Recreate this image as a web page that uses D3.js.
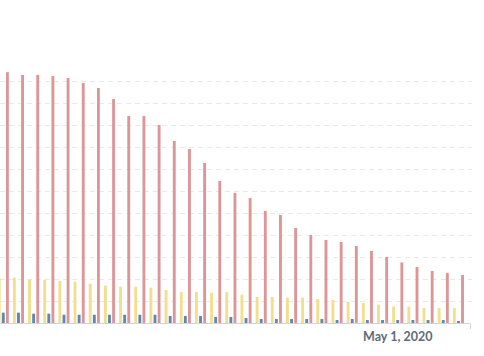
<!DOCTYPE html>
<html>
<head>
<meta charset="utf-8">
<script src="https://cdn.jsdelivr.net/npm/d3@7"></script>
<style>
  body { margin: 0; background: #fff; }
  svg { display: block; }
</style>
</head>
<body>
<div id="chart"></div>
<script>
// daily values, Apr 5 2020 .. May 5 2020
var days = d3.timeDay.range(new Date(2020, 3, 5), new Date(2020, 4, 6));

var hospitalized = [22800, 22550, 22550, 22450, 22270, 21820, 21360, 20360, 18820, 18820,
  18000, 16550, 15820, 14550, 12910, 11820, 11360, 10180, 9820, 8640,
  8000, 7550, 7360, 7000, 6550, 6000, 5500, 5090, 4730, 4550, 4360];
var icu = [4090, 4120, 3940, 3940, 3820, 3750, 3570, 3390, 3300, 3300,
  3210, 3000, 2820, 2820, 2750, 2820, 2570, 2360, 2360, 2300,
  2300, 2180, 2090, 1910, 1820, 1660, 1480, 1480, 1360, 1360, 1360];
var deaths = [940, 940, 850, 850, 750, 750, 750, 750, 750, 750,
  750, 640, 640, 640, 550, 550, 450, 360, 360, 360,
  360, 360, 270, 360, 270, 270, 270, 270, 270, 270, 180];

var seriesKeys = ['icu', 'deaths', 'hospitalized'];
var colors = { icu: '#f2de8e', deaths: '#5f87b4', hospitalized: '#de9597' };
var yTicks = d3.range(2000, 22001, 2000);
var labelDate = new Date(2020, 4, 1);

var rows = days.map(function(d, i) {
  return { date: d, icu: icu[i], deaths: deaths[i], hospitalized: hospitalized[i] };
});

var width = 484, height = 356;
var plotLeft = -4.3, plotRight = 466, axisEnd = 470, baseY = 323, topY = 81;

var svg = d3.select('#chart')
  .append('svg')
  .attr('width', width)
  .attr('height', height);

var x0 = d3.scaleBand()
  .domain(days)
  .range([plotLeft, plotRight])
  .paddingInner(0.27)
  .paddingOuter(0.135);

var x1 = d3.scaleBand()
  .domain(seriesKeys)
  .range([0, x0.bandwidth()])
  .paddingInner(0.3);

var y = d3.scaleLinear()
  .domain([0, 22000])
  .range([baseY, topY]);

// dashed gridlines
svg.append('g')
  .selectAll('line')
  .data(yTicks)
  .enter()
  .append('line')
  .attr('x1', 0)
  .attr('x2', 472)
  .attr('y1', function(d) { return Math.round(y(d)) + 0.5; })
  .attr('y2', function(d) { return Math.round(y(d)) + 0.5; })
  .attr('stroke', '#e8e8e8')
  .attr('stroke-dasharray', '5,4');

var groups = svg.append('g')
  .selectAll('g')
  .data(rows)
  .enter()
  .append('g')
  .attr('transform', function(d) { return 'translate(' + x0(d.date) + ',0)'; });

groups.selectAll('rect')
  .data(function(d) { return seriesKeys.map(function(k) { return { key: k, value: d[k] }; }); })
  .enter()
  .append('rect')
  .attr('x', function(d) { return x1(d.key); })
  .attr('width', x1.bandwidth())
  .attr('y', function(d) { return y(d.value); })
  .attr('height', function(d) { return baseY - y(d.value); })
  .attr('fill', function(d) { return colors[d.key]; });

// x axis
var axis = svg.append('g');
axis.append('path')
  .attr('d', 'M0,' + (baseY + 0.5) + 'H' + (axisEnd + 0.5) + 'V' + (baseY + 6))
  .attr('fill', 'none')
  .attr('stroke', '#ccd6e0');

axis.append('text')
  .attr('x', x0(labelDate) + x0.bandwidth() / 2)
  .attr('y', 341)
  .attr('text-anchor', 'middle')
  .attr('font-family', 'Lato, sans-serif')
  .attr('font-weight', 'bold')
  .attr('font-size', 12.5)
  .attr('fill', '#5e6b7b')
  .text(d3.timeFormat('%B %-d, %Y')(labelDate));
</script>
</body>
</html>
